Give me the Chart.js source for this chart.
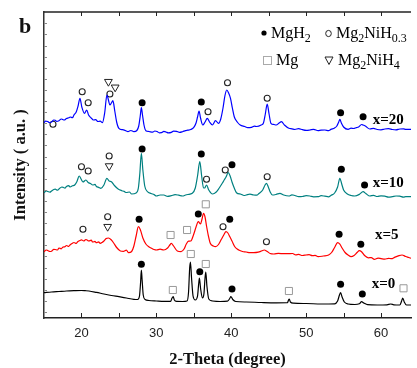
<!DOCTYPE html>
<html><head><meta charset="utf-8">
<script src="https://cdn.jsdelivr.net/npm/chart.js@4"></script>
<style>html,body{margin:0;padding:0;background:#fff;overflow:hidden}canvas{display:block}</style>
</head><body>
<canvas id="c" width="417" height="368"></canvas>
<script>
// ---- data (2-theta in degrees, intensity in arbitrary offset units) ----
const xTickLabels = [20, 30, 40, 50, 60];
const xMinorTicks = [20, 25, 30, 35, 40, 45, 50, 55, 60];
const sampleNames = ['x=0', 'x=5', 'x=10', 'x=20'];
const sampleColors = ['#000000', '#ff0000', '#008080', '#0000ff'];

const pattern_x0 = [[15,25.3],[16,26],[17,26.5],[18,27],[19,27.3],[20,27.5],[20.5,27.3],[21,27],[22,25.6],[23,24],[24,22.5],[25,21.3],[26,20],[27,18.7],[27.5,18.5],[27.75,22],[27.9,36],[28.0,48],[28.1,38],[28.25,23],[28.5,18.5],[29,17.5],[30,17],[31,16.6],[31.9,16.6],[32.1,20],[32.25,21.3],[32.4,18],[32.7,16.6],[33.5,16.5],[34.1,17],[34.3,26],[34.45,50],[34.55,56],[34.7,40],[34.9,22],[35.2,18],[35.5,22],[35.65,34],[35.75,40],[35.9,30],[36.15,20],[36.35,24],[36.5,40],[36.6,46],[36.75,32],[37,19],[37.5,17],[38.5,16.5],[39.5,16.8],[39.8,19.5],[39.95,21.5],[40.2,18.5],[40.6,16.5],[42,16],[44,15.5],[46,15.2],[47.5,15.3],[47.65,18],[47.75,19],[47.9,16],[48.3,14.8],[50,14.5],[52,14],[53.8,14.2],[54.2,17],[54.45,23],[54.6,25.3],[54.8,21],[55.1,16],[55.6,14],[56.5,13.5],[57.1,14.2],[57.4,16.3],[57.7,15],[58.2,13.3],[59.5,13],[60.8,13.2],[61.3,14],[61.7,13.2],[62.5,13],[62.75,17],[62.9,20],[63.1,16],[63.4,13],[64,13]];

const pattern_x5 = [[15,66.3],[15.3,68],[15.5,67.5],[15.8,66.5],[16,66.8],[16.3,68.6],[16.5,68.5],[16.8,68],[17,70],[17.3,69.2],[17.5,70.8],[17.8,71.3],[18,72.5],[18.3,71.6],[18.5,73.2],[18.8,74.8],[19,75.5],[19.3,74.6],[19.5,76.3],[19.8,77.5],[20,78.2],[20.3,77],[20.6,78.5],[21,77],[21.3,77.8],[21.5,76],[21.8,76.6],[22,75.3],[22.3,76.2],[22.5,74.6],[22.8,75.8],[23,77],[23.3,79.5],[23.6,80],[24,78],[24.3,75],[24.7,70.5],[25.2,67],[25.6,66.6],[26,67.8],[26.3,65.3],[26.7,66.5],[27.0,72],[27.3,82],[27.6,91.3],[27.85,88.5],[28.2,80],[28.6,74],[29,71.2],[29.3,70],[29.7,68.5],[30,68],[30.5,68.8],[31,68],[31.5,70],[31.8,73],[32,74.7],[32.3,72],[32.8,67],[33.3,66.3],[33.7,69],[34,74],[34.3,76.8],[34.6,77],[35,84],[35.3,91],[35.6,96.3],[35.9,94],[36.1,99],[36.3,104.7],[36.5,101],[36.7,92],[36.95,82],[37.2,74.7],[37.6,72],[37.9,71.3],[38.3,73.5],[38.7,79],[39,83],[39.3,86.3],[39.55,85],[39.8,81.5],[40.1,77],[40.5,71],[41,68],[41.5,66.5],[42,66],[42.5,65.3],[43,65.3],[43.6,65.8],[44.1,67.2],[44.4,68],[44.8,66.5],[45.2,64.5],[45.7,64],[46.3,64.6],[47,64.3],[47.5,64.3],[48.2,64.5],[48.6,63.2],[49,63.6],[49.5,62.5],[50,63],[50.4,63.4],[50.8,62.3],[51.2,62.6],[51.6,61.3],[52.3,62],[53,63],[53.4,65.5],[53.8,70.5],[54.2,75.3],[54.5,73.8],[54.8,70],[55.2,65.5],[55.6,63],[56,61.3],[56.4,62.5],[56.8,65.5],[57.1,67.3],[57.4,66.2],[57.8,62.5],[58.3,60.2],[58.7,60.4],[59.1,58.7],[59.6,59.8],[60,59.4],[60.5,58.9],[61,59.7],[61.4,59.3],[61.8,60.6],[62.4,62.4],[62.8,63],[63.3,61.5],[63.7,60.5],[64,59.7]];

const pattern_x10 = [[15,125.3],[15.3,127],[15.5,126.5],[15.8,125.8],[16,127],[16.3,128.5],[16.5,128.8],[16.8,127.8],[17.1,129.7],[17.4,131],[17.6,130.5],[17.8,129.8],[18,131.5],[18.3,132.4],[18.5,131],[18.8,132.2],[19.1,133],[19.4,136.5],[19.7,142],[19.95,139],[20.2,136],[20.6,138],[20.9,135.5],[21.2,134.5],[21.5,133],[21.8,133.6],[22,131.5],[22.3,130.6],[22.6,129.7],[23,133],[23.4,139.7],[23.7,137],[24.0,136.3],[24.4,132.5],[24.9,129],[25.4,127.3],[25.7,126.6],[26,125.5],[26.4,126],[26.7,124],[27.3,125],[27.6,130],[27.8,145],[28,164.7],[28.2,148],[28.45,132],[28.8,126.5],[29.3,124.5],[29.7,123.4],[30,122],[30.5,123],[31,123],[31.5,121.6],[32,122.3],[32.5,123.4],[33,122.8],[33.5,122],[33.9,123],[34.2,123.5],[34.8,124.7],[35.2,130],[35.5,142],[35.8,156.3],[36.05,142],[36.3,130],[36.45,130],[36.7,133],[37,128],[37.5,124],[38,126],[38.4,130],[38.8,134.7],[39.1,138.5],[39.3,141],[39.6,145.3],[39.85,142],[40.1,136],[40.4,130],[40.7,125.3],[41.3,123.8],[41.7,122.5],[42,123],[42.5,123.8],[43,123],[43.4,122.8],[43.7,124.5],[44.2,128],[44.5,132.8],[44.7,134.7],[44.95,131],[45.2,126],[45.5,123],[46,123.6],[46.5,124.7],[47,123],[47.7,122],[48.1,123.2],[48.5,122.5],[49,121.3],[49.5,121.5],[50,122.4],[50.5,122],[51,121.2],[51.6,121.3],[52,122.3],[52.5,121.8],[53,121.2],[53.3,122.5],[53.8,125],[54.2,131],[54.5,139.7],[54.75,134],[55,128],[55.5,124],[56,122.5],[56.5,122],[57.1,123.6],[57.6,126.3],[58,124.2],[58.5,122],[59,122.6],[59.5,121.5],[60,122.2],[60.5,121.8],[61,120.8],[61.5,121.3],[62,122],[62.5,121.8],[63,120.9],[63.3,121.4],[64,121.3]];

const pattern_x20 = [[15,195.3],[15.2,196.8],[15.5,196.5],[15.7,195.4],[16,196],[16.3,198],[16.5,197.8],[16.7,196.6],[17,197.3],[17.3,199],[17.5,198.5],[17.7,198],[18,199.5],[18.3,200.2],[18.5,201],[18.8,200.3],[19,203],[19.3,206],[19.55,212],[19.8,219.7],[20.05,211],[20.4,204.7],[20.7,208],[20.95,203],[21.3,200],[21.6,198],[21.9,198.4],[22.2,196.5],[22.5,196.9],[22.8,195.3],[23.1,205],[23.4,223],[23.6,218],[23.8,213],[24.0,215],[24.2,217.3],[24.45,207],[24.7,196],[25.0,189.7],[25.5,188.3],[26,187],[26.2,186.3],[26.6,187.5],[27,186.3],[27.4,187.5],[27.65,192],[27.85,202],[28.0,210.3],[28.15,203],[28.35,193],[28.6,187.3],[29,186.5],[29.5,185.8],[29.8,187],[30.1,186.5],[30.4,185.2],[30.7,185.3],[31,186.6],[31.3,186],[31.6,185.1],[32,185.6],[32.3,186.9],[32.7,186.7],[33.1,185.6],[33.5,186.3],[33.9,187.4],[34.2,187.8],[34.6,188.5],[35,190.7],[35.3,195],[35.5,201],[35.7,207],[35.9,200],[36.2,193],[36.5,196],[36.8,199.7],[37.1,196],[37.5,193],[37.9,197.3],[38.3,194.7],[38.6,199],[38.9,210],[39.15,222],[39.4,228],[39.65,225],[39.9,219.7],[40.15,210],[40.4,201.3],[40.8,196],[41.2,193],[41.8,191.5],[42.2,190.4],[42.7,190.7],[43.1,191.8],[43.4,191.5],[44,193],[44.3,195],[44.55,204],[44.8,214],[45.05,204],[45.3,194.7],[45.7,193.5],[46.0,193],[46.4,195],[46.7,196.3],[47.1,193],[47.7,189.7],[48.1,189.2],[48.5,188.5],[49,189.4],[49.5,188.3],[50,187.6],[50.5,188],[51,188.7],[51.6,187.3],[52,187.9],[52.5,188],[53,187.4],[53.3,188.6],[53.8,190],[54.1,192],[54.35,196],[54.5,198.7],[54.7,195],[55.0,191],[55.6,188.7],[56,189.8],[56.3,189.5],[56.7,190.3],[57.0,191],[57.4,193.5],[57.6,193],[57.9,192],[58.5,189],[59,189.6],[59.5,188.5],[60,188.2],[60.5,189],[61,189.3],[61.5,188.5],[62,188.1],[62.5,189],[63,189.2],[63.3,188.6],[64,188.7]];

// phase marker positions
const markMgH2 = [[28.1,215.3],[36.0,216],[54.6,205.3],[57.6,201.3],[28.1,169],[36.0,164],[40.1,153.3],[54.7,148.7],[57.8,133],[27.7,98.7],[35.6,104],[39.8,98.7],[54.4,83.7],[57.3,73.7],[28.0,53.7],[35.8,46.3],[40.1,29],[54.6,33.7],[57.5,24]];
const markMg2NiH03 = [[16.2,193.7],[20.1,226.3],[20.9,215.3],[23.8,224],[36.9,206.3],[39.5,235.3],[44.8,219.7],[20.0,151.3],[20.9,147],[23.7,162],[36.7,138.7],[39.2,148],[44.8,141.3],[20.2,88.7],[23.5,101.3],[38.9,91.3],[44.7,76.3]];
const markMg = [[31.9,83],[34.1,88],[36.6,113.7],[32.2,28],[34.6,64],[36.6,54],[47.7,27],[63.0,29.7]];
const markMg2NiH4 = [[23.6,236.3],[24.5,230.7],[23.7,152],[23.5,91.3]];

const sampleLabelX = [58.75, 59.2, 58.9, 58.9];
const sampleLabelY = [33.7, 83, 134.7, 198];

const toXY = a => a.map(p => ({x: p[0], y: p[1]}));
const patterns = [pattern_x0, pattern_x5, pattern_x10, pattern_x20];

const SERIF = '"Liberation Serif", "Times New Roman", serif';

const datasets = patterns.map((p, i) => ({
  label: sampleNames[i], data: toXY(p), borderColor: sampleColors[i], borderWidth: 1.2,
  pointRadius: 0, fill: false, tension: 0, cubicInterpolationMode: 'monotone'
}));
datasets.push({label:'MgH2', data: toXY(markMgH2), showLine:false, pointStyle:'circle', pointRadius:3.5, backgroundColor:'#000', borderColor:'#000', borderWidth:0});
datasets.push({label:'Mg2NiH0.3', data: toXY(markMg2NiH03), showLine:false, pointStyle:'circle', pointRadius:3, backgroundColor:'rgba(0,0,0,0)', borderColor:'#222', borderWidth:1.1});
datasets.push({label:'Mg', data: toXY(markMg), showLine:false, pointStyle:'rect', pointRadius:5, backgroundColor:'#fff', borderColor:'#999', borderWidth:1});
datasets.push({label:'Mg2NiH4', data: toXY(markMg2NiH4), showLine:false, pointStyle:'triangle', rotation:180, pointRadius:4.5, backgroundColor:'rgba(0,0,0,0)', borderColor:'#222', borderWidth:1});

function richText(ctx, x, y, parts, size) {
  let cx = x;
  for (const [t, sub] of parts) {
    ctx.font = (sub ? Math.round(size*0.75) : size) + 'px ' + SERIF;
    ctx.fillText(t, cx, sub ? y + size*0.27 : y);
    cx += ctx.measureText(t).width;
  }
}

const decor = {
  id: 'decor',
  afterDraw(chart) {
    const {ctx, chartArea: a, scales: {x, y}} = chart;
    ctx.save();
    ctx.strokeStyle = '#222'; ctx.lineWidth = 1.5;
    ctx.beginPath(); ctx.moveTo(a.left, a.top); ctx.lineTo(a.right, a.top); ctx.stroke();
    ctx.lineWidth = 1;
    for (const v of xMinorTicks) {
      const px = Math.round(x.getPixelForValue(v)) + 0.5;
      ctx.beginPath(); ctx.moveTo(px, a.top); ctx.lineTo(px, a.top + 4); ctx.stroke();
      ctx.beginPath(); ctx.moveTo(px, a.bottom); ctx.lineTo(px, a.bottom - 5); ctx.stroke();
    }
    ctx.strokeStyle = '#888';
    for (let v = 294.7; v > 0; v -= 11.1) {
      const py = Math.round(y.getPixelForValue(v)) + 0.5;
      ctx.beginPath(); ctx.moveTo(a.left, py); ctx.lineTo(a.left + 3, py); ctx.stroke();
    }
    ctx.fillStyle = '#111';
    ctx.textBaseline = 'alphabetic'; ctx.textAlign = 'left';
    ctx.font = 'bold 22px ' + SERIF;
    ctx.fillText('b', 19, 33);
    ctx.fillStyle = '#000';
    ctx.beginPath(); ctx.arc(264, 33, 2.6, 0, Math.PI*2); ctx.fill();
    richText(ctx, 271, 37.5, [['MgH',0],['2',1]], 16);
    ctx.strokeStyle = '#222'; ctx.lineWidth = 1;
    ctx.beginPath(); ctx.ellipse(328.5, 33.5, 2.8, 3.1, 0, 0, Math.PI*2); ctx.stroke();
    richText(ctx, 336, 37.5, [['Mg',0],['2',1],['NiH',0],['0.3',1]], 16);
    ctx.strokeStyle = '#aaa';
    ctx.strokeRect(263.5, 56.5, 8, 8);
    ctx.fillStyle = '#000';
    richText(ctx, 276, 65, [['Mg',0]], 16);
    ctx.strokeStyle = '#222';
    ctx.beginPath(); ctx.moveTo(325, 57); ctx.lineTo(333, 57); ctx.lineTo(329, 64.5); ctx.closePath(); ctx.stroke();
    richText(ctx, 338, 65, [['Mg',0],['2',1],['NiH',0],['4',1]], 16);
    ctx.font = 'bold 15px ' + SERIF; ctx.textBaseline = 'middle';
    sampleNames.forEach((n, i) => {
      ctx.fillText(n, x.getPixelForValue(sampleLabelX[i]), y.getPixelForValue(sampleLabelY[i]));
    });
    ctx.restore();
  }
};

new Chart(document.getElementById('c'), {
  type: 'line',
  data: { datasets },
  options: {
    responsive: false, animation: false, devicePixelRatio: 1,
    layout: { padding: { top: 12, left: 0, right: 0, bottom: 0 } },
    plugins: { legend: { display: false }, tooltip: { enabled: false } },
    scales: {
      x: {
        type: 'linear', min: 15, max: 64,
        afterBuildTicks: s => { s.ticks = xTickLabels.map(v => ({ value: v })); },
        afterFit: s => { s.height = 50; },
        grid: { display: false, drawTicks: false },
        border: { display: true, color: '#222', width: 1.5 },
        ticks: { padding: 8, color: '#222', maxRotation: 0, autoSkip: false, font: { family: 'Arial, "Liberation Sans", sans-serif', size: 13 } },
        title: { display: true, text: '2-Theta (degree)', color: '#111', padding: { top: 0, bottom: 0 },
                 font: { family: SERIF, size: 16.5, weight: 'bold', lineHeight: 1 } }
      },
      y: {
        type: 'linear', min: 0, max: 306,
        afterFit: s => { s.width = 44; },
        grid: { display: false, drawTicks: false },
        border: { display: true, color: '#333', width: 1.5 },
        ticks: { display: false },
        title: { display: true, text: 'Intensity ( a.u. )', color: '#111', padding: { top: 12, bottom: 0 },
                 font: { family: SERIF, size: 16.5, weight: 'bold', lineHeight: 1 } }
      }
    }
  },
  plugins: [decor]
});
</script>
</body></html>
